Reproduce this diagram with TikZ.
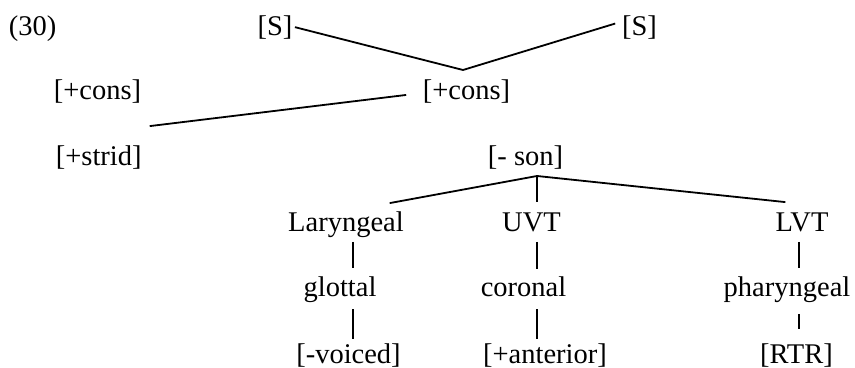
\documentclass[tikz,border=0pt]{standalone}
\usepackage{fontspec}
\setmainfont{Liberation Serif}

\tikzset{
  feat/.style={inner sep=0pt,text height=10pt,text depth=3.15pt,anchor=base,font=\fontsize{14.25}{17}\selectfont},
  upper/.style={shorten <=1.3pt,shorten >=4pt},
  lower/.style={shorten <=2.4pt,shorten >=1.5pt}
}

\begin{document}
\begin{tikzpicture}[x=0.5pt,y=-0.5pt,line width=0.9pt]
\useasboundingbox (0,0) rectangle (855,368);

\node [feat,anchor=base west] (ex) at (8,36) {(30)};
\node [feat] (sL) at (275,36) {[S]};
\node [feat] (sR) at (639.5,36) {[S]};

\node [feat,anchor=base west] (consL) at (53,100) {[+cons]};
\node [feat] (consM) at (466.5,100) {[+cons]};

\node [feat,anchor=base west] (strid) at (55,166) {[+strid]};
\node [feat] (son) at (525.5,166) {[- son]};

\node [feat] (lar) at (346,232) {Laryngeal};
\node [feat] (uvt) at (531.5,232) {UVT};
\node [feat] (lvt) at (802,232) {LVT};

\node [feat] (glot) at (340,297) {glottal};
\node [feat] (cor) at (523.5,297) {coronal};
\node [feat] (phar) at (787,297) {pharyngeal};

\node [feat] (voi) at (348.5,363) {[-voiced]};
\node [feat] (ant) at (545,363) {[+anterior]};
\node [feat] (rtr) at (796.5,363) {[RTR]};

\coordinate (v1) at (463,70);
\coordinate (v2) at (537,176);
\coordinate (colA) at (353,0);
\coordinate (colC) at (799,0);

% skeleton
\draw ([shift={(0.8pt,1pt)}]sL.east) -- (v1) -- ([shift={(-3pt,2.8pt)}]sR.west);
\draw ([shift={(3.6pt,9.5pt)}]strid.north east) -- ([shift={(-7.9pt,-0.9pt)}]consM.west);

% son to the three nodes
\draw ([shift={(-7.5pt,4pt)}]lar.north east) -- (v2) -- ([shift={(5.3pt,4.5pt)}]lvt.north west);
\draw [shorten >=4.5pt] (v2) -- (uvt.north -| v2);

% columns
\draw [upper] (lar.south -| colA) -- (glot.north -| colA);
\draw [lower] (glot.south -| colA) -- (voi.north -| colA);
\draw [upper,shorten >=3.5pt] (uvt.south -| v2) -- (cor.north -| v2);
\draw [lower] (cor.south -| v2) -- (ant.north -| v2);
\draw [upper] (lvt.south -| colC) -- (phar.north -| colC);
\draw [shorten <=4.85pt,shorten >=6.5pt] (phar.south -| colC) -- (rtr.north -| colC);
\end{tikzpicture}
\end{document}
